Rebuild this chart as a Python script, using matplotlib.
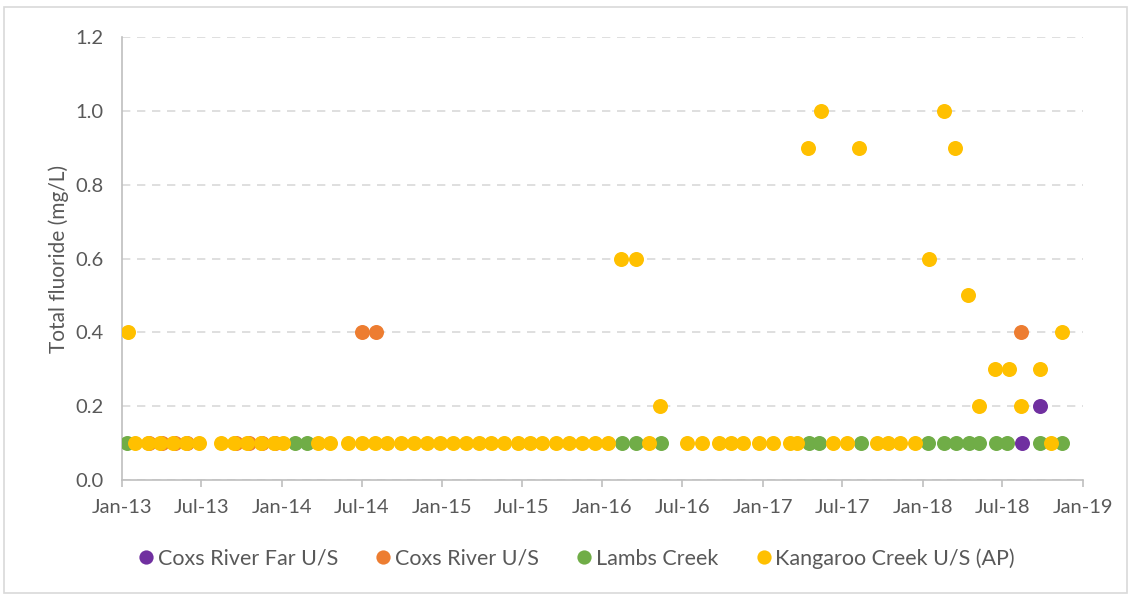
import matplotlib
matplotlib.use("Agg")
import matplotlib.pyplot as plt
import matplotlib.dates as mdates
import pandas as pd
from matplotlib.patches import Rectangle

plt.rcParams['font.family'] = ['Lato', 'DejaVu Sans']

# Coxs River Far U/S
far_dates = ["2018-08-14", "2018-09-24"]
far_vals = [0.1, 0.2]

# Coxs River U/S (mostly hidden under the yellow row in 2013)
cox_dates = ["2013-03-04", "2013-04-01", "2013-05-01", "2013-05-30",
             "2013-09-17", "2013-10-17", "2013-11-16", "2013-12-16",
             "2014-07-01", "2014-08-03", "2018-08-13"]
cox_vals = [0.1, 0.1, 0.1, 0.1, 0.1, 0.1, 0.1, 0.1, 0.4, 0.4, 0.4]

# Lambs Creek
lambs_dates = ["2013-01-12", "2014-01-30", "2014-02-26", "2016-02-14", "2016-03-18",
               "2016-05-13", "2017-04-16", "2017-05-09", "2017-08-13", "2018-01-12",
               "2018-02-19", "2018-03-17", "2018-04-16", "2018-05-09", "2018-06-16",
               "2018-07-12", "2018-09-24", "2018-11-15"]
lambs_vals = [0.1] * len(lambs_dates)

# Kangaroo Creek U/S (AP)
kang_low_dates = ["2013-01-30", "2013-03-01", "2013-03-29", "2013-04-28", "2013-05-27",
                  "2013-06-26", "2013-08-15", "2013-09-14", "2013-10-14", "2013-11-13",
                  "2013-12-13", "2014-01-04", "2014-03-24", "2014-04-21", "2014-06-01",
                  "2014-07-01", "2014-08-01", "2014-08-28", "2014-09-28", "2014-10-28",
                  "2014-11-28", "2014-12-28", "2015-01-25", "2015-02-25", "2015-03-25",
                  "2015-04-22", "2015-05-22", "2015-06-22", "2015-07-20", "2015-08-17",
                  "2015-09-18", "2015-10-18", "2015-11-16", "2015-12-16", "2016-01-15",
                  "2016-04-17", "2016-07-13", "2016-08-16", "2016-09-24", "2016-10-21",
                  "2016-11-16", "2016-12-24", "2017-01-24", "2017-03-03", "2017-03-19",
                  "2017-06-10", "2017-07-13", "2017-09-18", "2017-10-13", "2017-11-10",
                  "2017-12-13", "2018-10-21"]
kang_high_dates = ["2013-01-14", "2016-02-12", "2016-03-18", "2016-05-12", "2017-04-15",
                   "2017-05-13", "2017-08-09", "2018-01-14", "2018-02-19", "2018-03-15",
                   "2018-04-13", "2018-05-10", "2018-06-15", "2018-07-16", "2018-08-13",
                   "2018-09-24", "2018-11-15"]
kang_high_vals = [0.4, 0.6, 0.6, 0.2, 0.9, 1.0, 0.9, 0.6, 1.0, 0.9,
                  0.5, 0.2, 0.3, 0.3, 0.2, 0.3, 0.4]
kang_dates = kang_low_dates + kang_high_dates
kang_vals = [0.1] * len(kang_low_dates) + kang_high_vals

series = [
    ("Coxs River Far U/S", far_dates, far_vals, "#7030A0"),
    ("Coxs River U/S", cox_dates, cox_vals, "#ED7D31"),
    ("Lambs Creek", lambs_dates, lambs_vals, "#70AD47"),
    ("Kangaroo Creek U/S (AP)", kang_dates, kang_vals, "#FFC000"),
]

fig = plt.figure(figsize=(11.32, 5.94), dpi=100)
ax = fig.add_axes([0.1078, 0.1919, 0.8489, 0.7458])

for name, d, v, c in series:
    ax.plot(pd.to_datetime(d), v, linestyle='none', marker='o', ms=10.8,
            color=c, markeredgewidth=0, label=name, zorder=3)

ax.set_xlim(pd.Timestamp("2013-01-01"), pd.Timestamp("2019-01-01"))
ax.set_ylim(0, 1.2)
ax.set_yticks([0, 0.2, 0.4, 0.6, 0.8, 1.0, 1.2])
ax.yaxis.set_major_formatter(matplotlib.ticker.FormatStrFormatter('%.1f'))
ax.xaxis.set_major_locator(mdates.MonthLocator(bymonth=[1, 7]))
ax.xaxis.set_major_formatter(mdates.DateFormatter('%b-%y'))

ax.grid(axis='y', color='#D9D9D9', linestyle=(0, (5, 4)), linewidth=1.2, zorder=0)
for s in ['top', 'right']:
    ax.spines[s].set_visible(False)
for s in ['left', 'bottom']:
    ax.spines[s].set_color('#BFBFBF')
    ax.spines[s].set_linewidth(1.2)
ax.tick_params(axis='y', length=0, pad=13, labelsize=14.5, labelcolor='#595959')
ax.tick_params(axis='x', length=5, width=1.2, color='#BFBFBF', pad=9,
               labelsize=14.5, labelcolor='#595959')
ax.set_ylabel("Total fluoride (mg/L)", fontsize=15, color='#595959', labelpad=5)

fig.legend(loc='center', bbox_to_anchor=(0.508, 0.06), ncol=4, frameon=False,
           fontsize=15.5, labelcolor='#595959', handletextpad=0.05,
           columnspacing=1.6, handlelength=1.0, markerscale=0.95)

fig.patches.append(Rectangle((4 / 1132, 1 / 594), 1123 / 1132, 586 / 594,
                             transform=fig.transFigure, fill=False,
                             edgecolor='#D9D9D9', linewidth=1.2))

fig.savefig("out.png", dpi=100)
